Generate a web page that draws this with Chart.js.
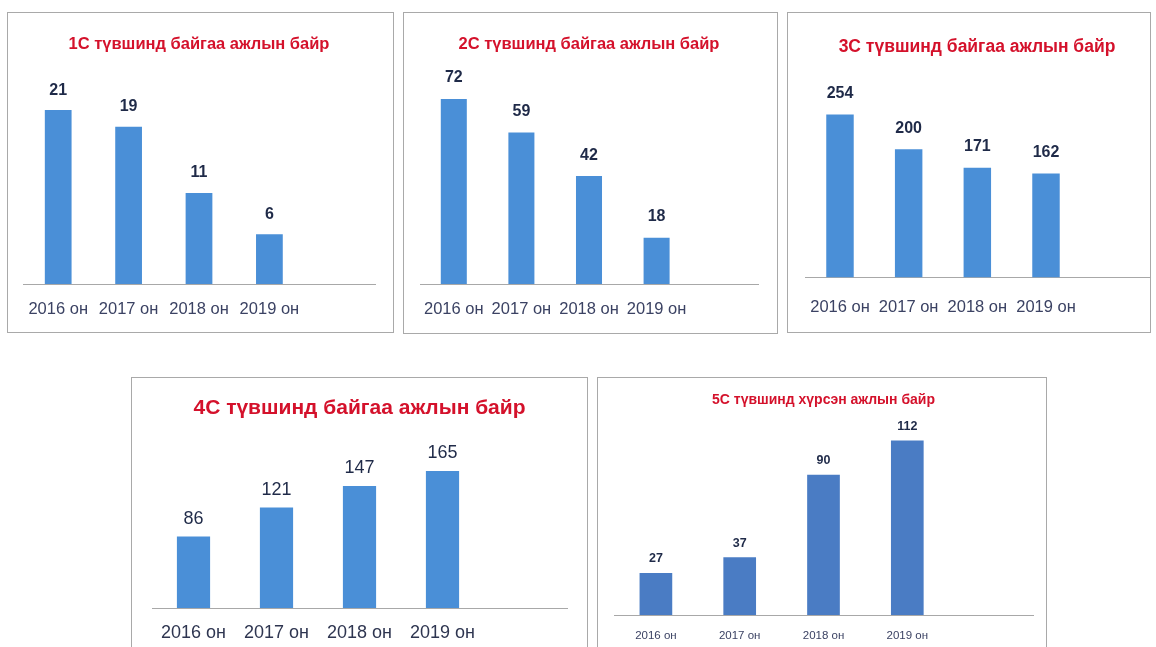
<!DOCTYPE html>
<html lang="mn">
<head>
    <meta charset="UTF-8">
    <title>Ажлын байр</title>
    <script src="https://cdn.jsdelivr.net/npm/chart.js"></script>
    <style>
        body {
            margin: 0;
            width: 1156px;
            height: 647px;
            overflow: hidden;
            background: #fff;
        }

        .box {
            position: absolute;
            border: 1px solid #a9a9a9;
            background: #fff;
        }

        .box canvas {
            display: block;
        }
    </style>
</head>
<body>
    <div class="box" id="b1"><canvas id="c1"></canvas></div>
    <div class="box" id="b2"><canvas id="c2"></canvas></div>
    <div class="box" id="b3"><canvas id="c3"></canvas></div>
    <div class="box" id="b4"><canvas id="c4"></canvas></div>
    <div class="box" id="b5"><canvas id="c5"></canvas></div>

    <script>
        const years = ['2016 он', '2017 он', '2018 он', '2019 он'];

        const titles = [
            '1С түвшинд байгаа ажлын байр',
            '2С түвшинд байгаа ажлын байр',
            '3С түвшинд байгаа ажлын байр',
            '4С түвшинд байгаа ажлын байр',
            '5С түвшинд хүрсэн ажлын байр'
        ];

        const level1 = [21, 19, 11, 6];
        const level2 = [72, 59, 42, 18];
        const level3 = [254, 200, 171, 162];
        const level4 = [86, 121, 147, 165];
        const level5 = [27, 37, 90, 112];

        const FONT = '"Liberation Sans", Arial, sans-serif';

        // draws the number above each bar
        const valueLabels = {
            id: 'valueLabels',
            afterDatasetsDraw(chart, args, opts) {
                const ctx = chart.ctx;
                const meta = chart.getDatasetMeta(0);
                ctx.save();
                ctx.font = opts.font;
                ctx.fillStyle = opts.color;
                ctx.textAlign = 'center';
                ctx.textBaseline = 'middle';
                meta.data.forEach((bar, i) => {
                    const v = chart.data.datasets[0].data[i];
                    if (v == null) return;
                    ctx.fillText(String(v), bar.x, bar.y - opts.gap);
                });
                ctx.restore();
            }
        };

        // page layout of each panel (absolute px)
        const panels = [
            { box: [7, 12, 387, 321], left: 23, right: 375, top: 77, bottom: 284, yMax: 25,
              titleY: 44, titleSize: 16.5,
              tickSize: 16.5, tickPad: 16, tickColor: '#3b4263',
              valFont: 'bold 16px ' + FONT, valGap: 20, barPct: 0.38, bar: '#4a8fd7' },
            { box: [403, 12, 375, 322], left: 420, right: 758, top: 78.5, bottom: 284, yMax: 80,
              titleY: 44, titleSize: 16.5,
              tickSize: 16.5, tickPad: 16, tickColor: '#3b4263',
              valFont: 'bold 16px ' + FONT, valGap: 21, barPct: 0.385, bar: '#4a8fd7' },
            { box: [787, 12, 364, 321], left: 805, right: 1149, top: 85, bottom: 277.5, yMax: 300,
              titleY: 47, titleSize: 17.5,
              tickSize: 16.5, tickPad: 20.5, tickColor: '#3b4263',
              valFont: 'bold 16px ' + FONT, valGap: 21, barPct: 0.4, bar: '#4a8fd7' },
            { box: [131, 377, 457, 300], left: 152, right: 567, top: 442, bottom: 608, yMax: 200,
              titleY: 408, titleSize: 21,
              tickSize: 18, tickPad: 14.5, tickColor: '#2e3550',
              valFont: '18px ' + FONT, valGap: 18, barPct: 0.4, bar: '#4a8fd7' },
            { box: [597, 377, 450, 300], left: 614, right: 1033, top: 428, bottom: 615, yMax: 120,
              titleY: 400, titleSize: 14,
              tickSize: 11.5, tickPad: 13.5, tickColor: '#3b4263',
              valFont: 'bold 12.5px ' + FONT, valGap: 14, barPct: 0.39, bar: '#4a7cc4' }
        ];

        const series = [level1, level2, level3, level4, level5];

        panels.forEach((p, i) => createPanel(i + 1, series[i], titles[i], p));

        function createPanel(n, values, title, p) {
            const box = document.getElementById('b' + n);
            const canvas = document.getElementById('c' + n);
            box.style.left = p.box[0] + 'px';
            box.style.top = p.box[1] + 'px';
            const cx = p.box[0] + 1;
            const cy = p.box[1] + 1;
            const cw = p.box[2] - 2;
            const ch = p.box[3] - 2;
            canvas.width = cw;
            canvas.height = ch;

            const plotTop = p.top - cy;
            const plotBottom = p.bottom - cy;
            const titleMid = p.titleY - cy;
            const half = p.titleSize * 0.6;

            new Chart(canvas, {
                type: 'bar',
                data: {
                    labels: years.concat(['']),
                    datasets: [{
                        data: values,
                        backgroundColor: p.bar,
                        barPercentage: p.barPct,
                        categoryPercentage: 1
                    }]
                },
                options: {
                    responsive: false,
                    animation: false,
                    layout: {
                        padding: { left: p.left - cx, right: cx + cw - p.right, top: 0, bottom: 0 }
                    },
                    plugins: {
                        legend: { display: false },
                        tooltip: { enabled: false },
                        title: {
                            display: true,
                            text: title,
                            color: '#d4112b',
                            font: { family: FONT, size: p.titleSize, weight: 'bold' },
                            padding: { top: titleMid - half, bottom: plotTop - titleMid - half }
                        },
                        valueLabels: { font: p.valFont, color: '#1f2a48', gap: p.valGap }
                    },
                    scales: {
                        x: {
                            grid: { display: false, drawTicks: false },
                            border: { display: true, color: '#a8a8a8', width: 1 },
                            ticks: {
                                color: p.tickColor,
                                padding: p.tickPad,
                                autoSkip: false,
                                maxRotation: 0,
                                minRotation: 0,
                                font: { family: FONT, size: p.tickSize }
                            },
                            afterFit: scale => { scale.height = ch - plotBottom; }
                        },
                        y: { display: false, min: 0, max: p.yMax }
                    }
                },
                plugins: [valueLabels]
            });
        }
    </script>
</body>
</html>
